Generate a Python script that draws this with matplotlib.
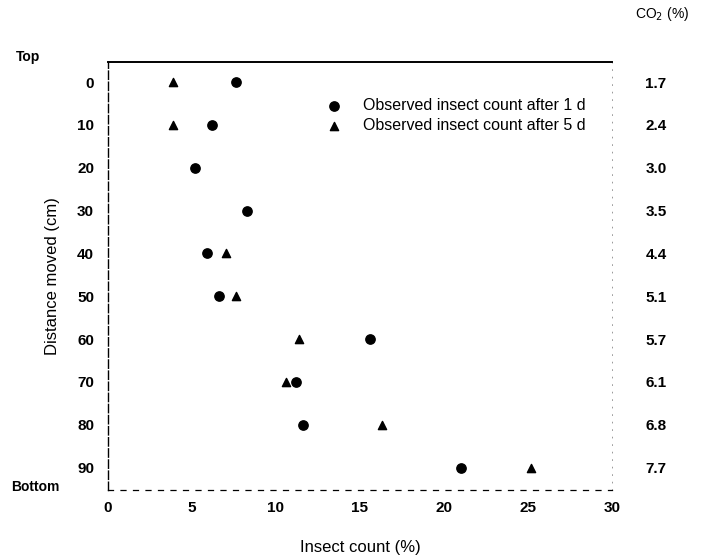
import matplotlib
matplotlib.use("Agg")
import matplotlib.pyplot as plt

plt.rcParams['font.family'] = ['Liberation Sans', 'DejaVu Sans']

# data
distance = [0, 10, 20, 30, 40, 50, 60, 70, 80, 90]
count_1d = [7.6, 6.2, 5.2, 8.3, 5.9, 6.6, 15.6, 11.2, 11.6, 21.0]
dist_5d = [0, 10, 40, 50, 60, 70, 80, 90]
count_5d = [3.9, 3.9, 7.0, 7.6, 11.4, 10.6, 16.3, 25.2]
co2 = ["1.7", "2.4", "3.0", "3.5", "4.4", "5.1", "5.7", "6.1", "6.8", "7.7"]

fig = plt.figure(figsize=(7.01, 5.59), dpi=100)
ax = fig.add_axes([0.154, 0.123, 0.719, 0.766])

ax.scatter(count_1d, distance, marker='o', s=45, color='black',
           label='Observed insect count after 1 d')
ax.scatter(count_5d, dist_5d, marker='^', s=35, color='black',
           label='Observed insect count after 5 d')

ax.set_xlim(0, 30)
ax.set_ylim(95.3, -4.7)
ax.set_xticks([0, 5, 10, 15, 20, 25, 30])
ax.set_yticks(distance)
ax.tick_params(axis='y', length=0, labelsize=11, pad=10)
ax.tick_params(axis='x', length=0, labelsize=11, pad=8)
for lab in ax.get_xticklabels() + ax.get_yticklabels():
    lab.set_fontweight('bold')

ax.spines['top'].set_linewidth(1.4)
ax.spines['left'].set_linestyle((0, (6, 2)))
ax.spines['left'].set_linewidth(1.0)
ax.spines['bottom'].set_linestyle((0, (4, 6)))
ax.spines['bottom'].set_linewidth(0.9)
ax.spines['right'].set_linestyle((0, (1, 8)))
ax.spines['right'].set_linewidth(0.6)
ax.spines['right'].set_color('#888888')

ax.set_xlabel('Insect count (%)', fontsize=12, labelpad=18)
ax.set_ylabel('Distance moved (cm)', fontsize=12, labelpad=12)

# CO2 values on the right
ax2 = ax.twinx()
ax2.set_ylim(ax.get_ylim())
ax2.set_yticks(distance)
ax2.set_yticklabels(co2)
ax2.tick_params(length=0, labelsize=11, pad=24)
for lab in ax2.get_yticklabels():
    lab.set_fontweight('bold')
for s in ax2.spines.values():
    s.set_visible(False)

fig.text(0.945, 0.975, 'CO$_2$ (%)', fontsize=10, ha='center', va='center')
fig.text(0.04, 0.898, 'Top', fontsize=10, fontweight='bold', ha='center', va='center')
fig.text(0.05, 0.128, 'Bottom', fontsize=10, fontweight='bold', ha='center', va='center')

ax.legend(loc='upper left', bbox_to_anchor=(0.404, 0.93), frameon=False,
          fontsize=11.5, handletextpad=0.8, labelspacing=0.3, borderaxespad=0)

fig.savefig('out.png', dpi=100)
